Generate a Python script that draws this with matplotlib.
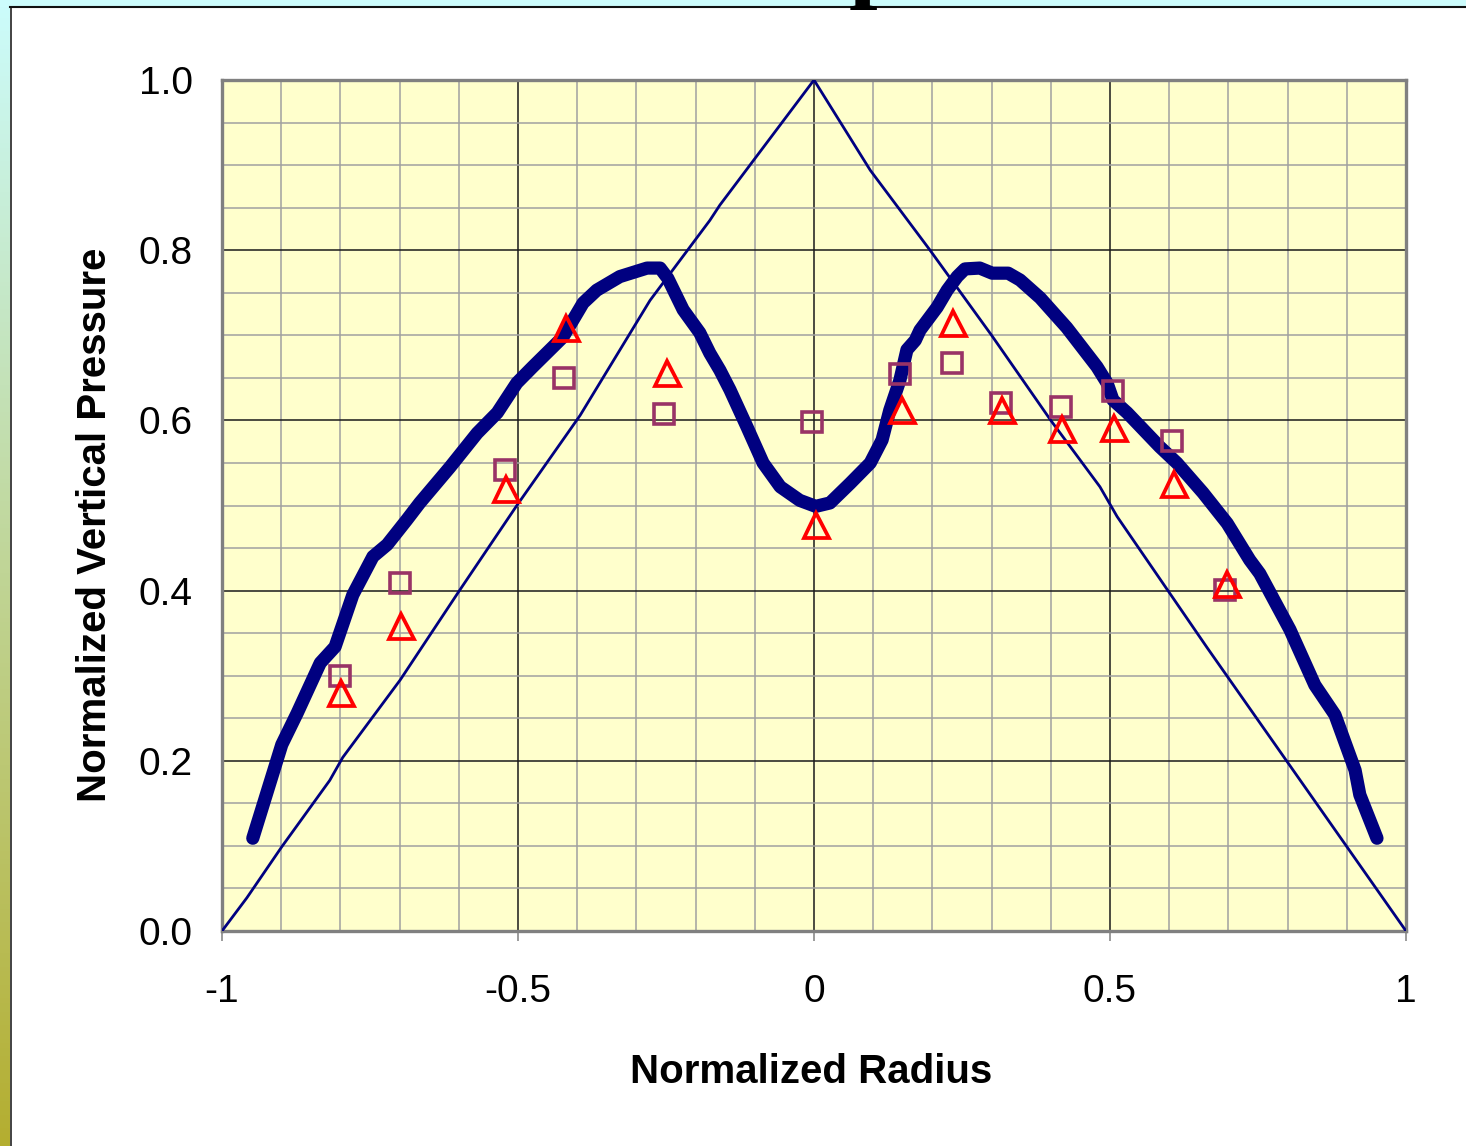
import numpy as np
import matplotlib
matplotlib.use("Agg")
from matplotlib import pyplot as plt
from matplotlib.patches import Rectangle
from matplotlib.ticker import FixedLocator, MultipleLocator

plt.rcParams['font.family'] = ['Liberation Sans', 'DejaVu Sans']

# thick measured curve
curve_x = [-0.948, -0.899, -0.873, -0.834, -0.809, -0.779, -0.745, -0.721, -0.688, -0.666,
           -0.615, -0.569, -0.535, -0.502, -0.475, -0.424, -0.390, -0.367, -0.328, -0.282,
           -0.260, -0.247, -0.221, -0.193, -0.176, -0.159, -0.142, -0.113, -0.086, -0.057,
           -0.024, 0.003, 0.027, 0.061, 0.095, 0.115, 0.128, 0.145, 0.157, 0.171,
           0.179, 0.208, 0.225, 0.242, 0.255, 0.280, 0.301, 0.328, 0.348, 0.382,
           0.427, 0.478, 0.495, 0.505, 0.529, 0.584, 0.613, 0.657, 0.698, 0.736,
           0.753, 0.804, 0.846, 0.880, 0.914, 0.922, 0.951]
curve_y = [0.109, 0.219, 0.256, 0.315, 0.334, 0.395, 0.440, 0.454, 0.483, 0.503,
           0.545, 0.585, 0.609, 0.644, 0.663, 0.698, 0.738, 0.753, 0.769, 0.779,
           0.779, 0.767, 0.730, 0.703, 0.679, 0.659, 0.636, 0.592, 0.550, 0.522,
           0.506, 0.499, 0.503, 0.526, 0.550, 0.577, 0.612, 0.647, 0.683, 0.694,
           0.706, 0.733, 0.753, 0.769, 0.778, 0.779, 0.773, 0.773, 0.765, 0.744,
           0.709, 0.663, 0.644, 0.624, 0.609, 0.569, 0.550, 0.515, 0.479, 0.436,
           0.420, 0.354, 0.289, 0.254, 0.189, 0.160, 0.109]

# thin triangular line
tri_x = [-1.0, -0.958, -0.899, -0.818, -0.796, -0.699, -0.598, -0.502, -0.395, -0.277,
         -0.176, -0.159, 0.0, 0.095, 0.196, 0.300, 0.400, 0.483, 0.512, 0.664, 1.0]
tri_y = [0.0, 0.039, 0.099, 0.177, 0.204, 0.295, 0.401, 0.500, 0.606, 0.741,
         0.835, 0.853, 1.0, 0.894, 0.800, 0.700, 0.600, 0.522, 0.487, 0.333, 0.0]

# square markers
sq_x = [-0.800, -0.699, -0.522, -0.422, -0.253, -0.003, 0.145, 0.233, 0.316, 0.417, 0.505, 0.605, 0.694]
sq_y = [0.300, 0.409, 0.542, 0.650, 0.607, 0.598, 0.655, 0.667, 0.620, 0.616, 0.634, 0.576, 0.401]

# triangle markers
tr_x = [-0.799, -0.698, -0.520, -0.419, -0.248, 0.003, 0.148, 0.235, 0.318, 0.419, 0.507, 0.608, 0.697]
tr_y = [0.280, 0.358, 0.519, 0.709, 0.656, 0.477, 0.612, 0.714, 0.612, 0.590, 0.591, 0.525, 0.408]

x_ticks = [-1, -0.5, 0, 0.5, 1]
x_labels = ['-1', '-0.5', '0', '0.5', '1']
y_ticks = [0.0, 0.2, 0.4, 0.6, 0.8, 1.0]
y_labels = ['0.0', '0.2', '0.4', '0.6', '0.8', '1.0']

W, H = 1466, 1146
fig = plt.figure(figsize=(W / 100, H / 100), dpi=100)
fig.patch.set_facecolor('white')

# slide background: gradient strip on the left, cyan band on top
bg = fig.add_axes([0, 0, 1, 1])
bg.set_xlim(0, W)
bg.set_ylim(H, 0)
bg.axis('off')
top_c = np.array([204, 252, 252]) / 255
bot_c = np.array([180, 174, 48]) / 255
t = np.linspace(0, 1, 256)[:, None]
grad = (top_c[None, :] * (1 - t) + bot_c[None, :] * t)[:, None, :]
bg.imshow(grad, extent=[0, 10, H, 0], aspect='auto')
bg.add_patch(Rectangle((0, 0), W, 7, color='#CCFCFC', lw=0))
bg.plot([10.5, 10.5], [7, H], color='#222222', lw=1.2)
bg.plot([10, W], [7.3, 7.3], color='#111111', lw=1.5)
# bottom of the slide title, mostly above the visible area
fig.text(849 / W, 1 + 12 / H, 'p', fontsize=74, family='Liberation Serif',
         weight='bold', ha='left', va='baseline', color='black')

ax = fig.add_axes([222 / W, 1 - 931 / H, (1406 - 222) / W, (931 - 80) / H])
ax.set_facecolor('#FFFFCC')

ax.plot(tri_x, tri_y, color='#000080', lw=2.0, zorder=3)
ax.plot(curve_x, curve_y, color='#000080', lw=9.5, solid_capstyle='round',
        solid_joinstyle='round', zorder=4)
ax.plot(sq_x, sq_y, ls='none', marker='s', ms=15, mfc='none', mec='#993366', mew=2.6, zorder=5)
ax.plot(tr_x, tr_y, ls='none', marker='^', ms=18, mfc='none', mec='#FF0000', mew=2.7, zorder=6)

ax.set_xlim(-1, 1)
ax.set_ylim(0, 1)
ax.xaxis.set_major_locator(FixedLocator(x_ticks))
ax.set_xticklabels(x_labels)
ax.yaxis.set_major_locator(FixedLocator(y_ticks))
ax.set_yticklabels(y_labels)
ax.xaxis.set_minor_locator(MultipleLocator(0.1))
ax.yaxis.set_minor_locator(MultipleLocator(0.05))

ax.grid(which='minor', color='#A0A0A0', lw=1.1, zorder=1)
ax.grid(which='major', color='#1A1A1A', lw=1.1, zorder=1)
ax.set_axisbelow(True)

ax.tick_params(axis='x', which='major', direction='out', length=7, width=1.1,
               color='#808080', labelsize=28, pad=24)
ax.tick_params(axis='y', which='major', length=0, labelsize=28, pad=21)
ax.tick_params(which='minor', length=0)

for s in ax.spines.values():
    s.set_color('#808080')
    s.set_linewidth(2.4)

ax.set_xlabel('Normalized Radius', fontsize=29, weight='bold', va='center')
ax.xaxis.set_label_coords(0.4975, -0.1657)
ax.set_ylabel('Normalized Vertical Pressure', fontsize=29, weight='bold', va='center')
ax.yaxis.set_label_coords(-0.1075, 0.477)

fig.savefig('out.png', dpi=100, facecolor=fig.get_facecolor())
